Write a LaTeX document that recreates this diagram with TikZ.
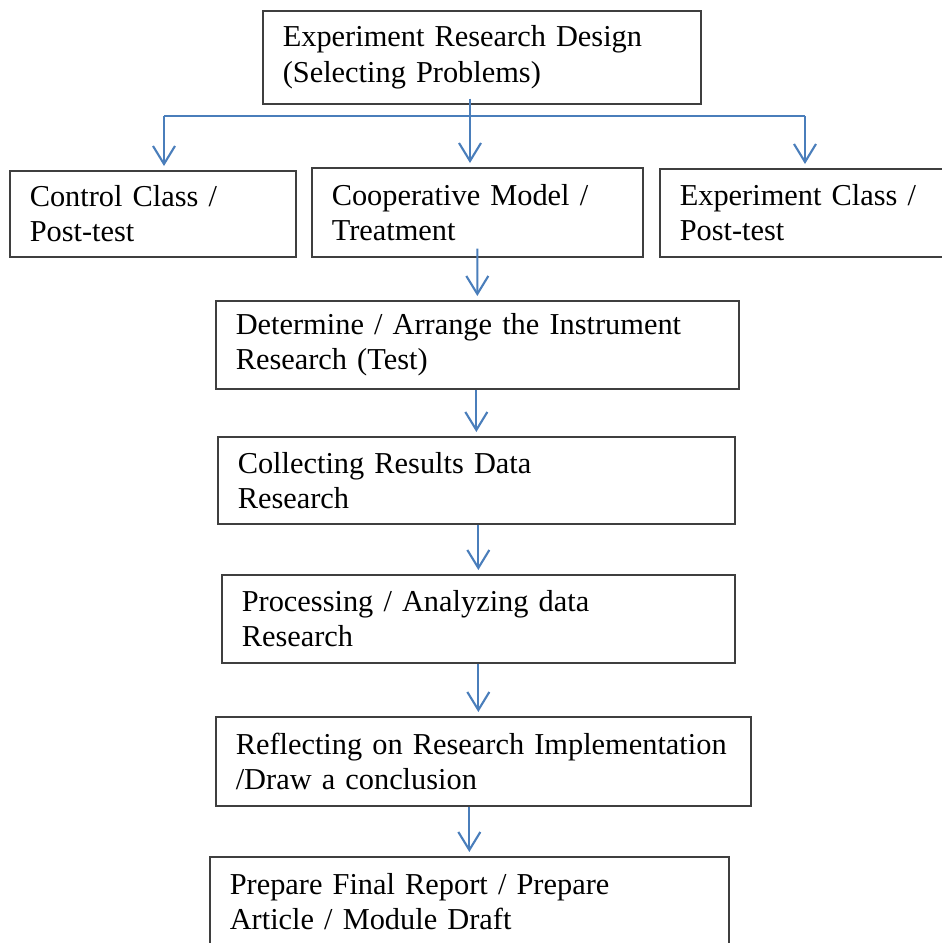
\documentclass[tikz,border=0pt]{standalone}
\usepackage{fontspec}
\setmainfont[WordSpace=0.8]{Liberation Serif}
\usetikzlibrary{positioning,arrows.meta}
\definecolor{arrowblue}{HTML}{4A7EBB}
\definecolor{boxgray}{HTML}{3F3F3F}

\begin{document}
\begin{tikzpicture}[x=0.025cm, y=-0.025cm,
    every node/.style={draw=boxgray, line width=1.1pt, anchor=north west, align=left, inner xsep=0.5cm, inner ysep=0pt, font=\fontsize{21.6}{25}\selectfont},
    link/.style={arrowblue, line width=1.5pt},
    flow/.style={link, shorten >=0.1cm, -{Straight Barb[length=0.45cm, width=0.55cm]}}]
        \useasboundingbox (0,0) rectangle (942,943);
        \node[minimum width=10.95cm, minimum height=2.325cm, text width=9.95cm] (design) at (262,10) {Experiment Research Design\\(Selecting Problems)};
        \node[minimum width=7.15cm, minimum height=2.15cm, text width=6.15cm] (control) at (9,170) {Control Class /\\Post-test};
        \node[minimum width=8.275cm, minimum height=2.225cm, text width=7.275cm] (coop) at (311,167) {Cooperative Model /\\Treatment};
        \node[minimum width=7.5cm, minimum height=2.2cm, text width=6.5cm] (expclass) at (659,168) {Experiment Class /\\Post-test};
        \node[minimum width=13.075cm, minimum height=2.2cm, text width=12.075cm] (instrument) at (215,300) {Determine / Arrange the Instrument\\Research (Test)};
        \node[minimum width=12.925cm, minimum height=2.175cm, text width=11.925cm] (collect) at (217,436) {Collecting Results Data\\Research};
        \node[minimum width=12.825cm, minimum height=2.2cm, text width=11.825cm] (process) at (221,574) {Processing / Analyzing data\\Research};
        \node[minimum width=13.375cm, minimum height=2.225cm, text width=12.375cm] (reflect) at (215,716) {\mbox{Reflecting on Research Implementation}\\/Draw a conclusion};
        \node[minimum width=12.975cm, minimum height=2.25cm, text width=11.975cm] (report) at (209,856) {Prepare Final Report / Prepare\\Article / Module Draft};
        % branch under the design box
        \coordinate (split) at (470,116);
        \coordinate (left) at (164,116);
        \coordinate (right) at (805,116);
        \draw[link] (left) -- (right);
        \draw[flow] ([yshift=0.15cm]design.south -| split) -- (coop.north -| split);
        \draw[flow] (left) -- (control.north -| left);
        \draw[flow] (right) -- (expclass.north -| right);
        % main sequence
        \draw[flow] ([yshift=0.225cm]coop.south) -- (instrument.north);
        \draw[flow] (instrument.south -| collect.north) -- (collect.north);
        \draw[flow] (collect.south -| process.north) -- (process.north);
        \draw[flow] (process.south) -- (process.south |- reflect.north);
        \draw[flow] (reflect.south -| report.north) -- (report.north);
\end{tikzpicture}
\end{document}
